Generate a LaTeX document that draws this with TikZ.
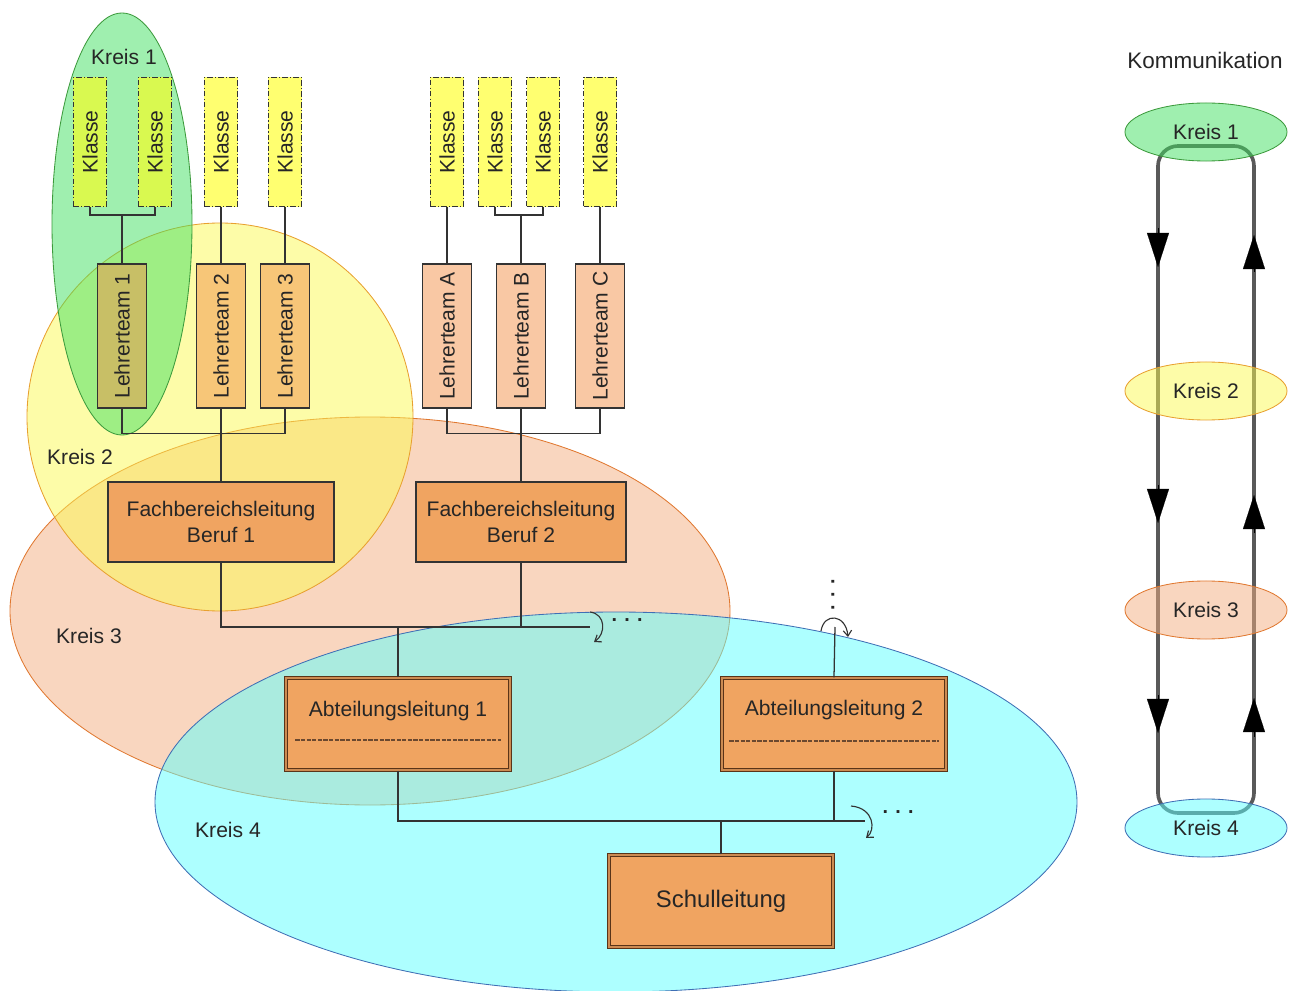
\documentclass[tikz,border=0pt]{standalone}
\usepackage{fontspec}
\setmainfont{Liberation Sans}
\usetikzlibrary{shapes.geometric,arrows.meta}

\definecolor{kreisgruen}{HTML}{40E060}
\definecolor{kreisgelb}{HTML}{FBF951}
\definecolor{kreisorange}{HTML}{F3AE7F}
\definecolor{kreiscyan}{HTML}{5CFFFF}
\definecolor{randgruen}{HTML}{3C9A3C}
\definecolor{randgelb}{HTML}{E8A030}
\definecolor{randorange}{HTML}{E07830}
\definecolor{randcyan}{HTML}{3F6FB5}
\definecolor{klassegelb}{HTML}{FFFF11}
\definecolor{teamorange}{HTML}{F3914A}
\definecolor{leitung}{HTML}{F0A461}
\definecolor{rahmen}{HTML}{5A3418}
\definecolor{linie}{HTML}{333333}

\tikzset{
  kreis/.style={line width=0.6pt, fill opacity=0.5},
  kleinkreis/.style={ellipse, line width=0.6pt, fill opacity=0.5, text opacity=1, minimum width=4.05cm, minimum height=1.45cm, inner sep=0pt},
  klasse/.style={draw=linie, dash pattern=on 4pt off 1.5pt on 0.8pt off 1.5pt, line width=0.8pt, fill=klassegelb, fill opacity=0.6, text opacity=1, minimum width=0.825cm, minimum height=3.225cm, inner sep=0pt},
  team/.style={draw=linie, line width=0.8pt, fill=teamorange, fill opacity=0.5, text opacity=1, minimum width=1.225cm, minimum height=3.6cm, inner sep=0pt},
  fachbox/.style={draw=linie, line width=0.8pt, fill=leitung, align=center, minimum height=2cm, inner sep=0pt},
  leitbox/.style={draw=rahmen, line width=0.9pt, double=leitung!85!black, double distance=1.2pt, fill=leitung, minimum width=5.6cm, minimum height=2.3cm, inner sep=0pt},
  trenn/.style={draw=rahmen!90, dash pattern=on 3pt off 1pt, line width=0.8pt},
  verb/.style={draw=linie, line width=0.9pt},
  haken/.style={draw=linie, line width=0.8pt, -{Straight Barb[length=4pt,width=6pt]}},
  punkte/.style={font=\fontsize{14}{14}\bfseries},
  schleife/.style={draw=black!65, line width=2.6pt, rounded corners=0.5cm},
  pfeil/.style={-{Triangle[length=0.85cm,width=0.55cm]}, line width=0.1pt}
}

\begin{document}
\begin{tikzpicture}[x=0.025cm, y=-0.025cm, font=\fontsize{15}{18}\selectfont, text=black!85]
  \useasboundingbox (0,0) rectangle (1298,991);

  % Kreise
  \draw[kreis, draw=randorange, fill=kreisorange] (370,611) ellipse (360 and 194);
  \draw[kreis, draw=randcyan, fill=kreiscyan] (616,802) ellipse (461 and 190);
  \draw[kreis, draw=randgelb, fill=kreisgelb] (220,417) ellipse (193 and 194);
  \draw[kreis, draw=randgruen, fill=kreisgruen] (122,224) ellipse (70 and 211);
  \node (kreis1) at (124,57) {Kreis 1};
  \node (kreis2) at (80,457) {Kreis 2};
  \node (kreis3) at (89,636) {Kreis 3};
  \node (kreis4) at (228,830) {Kreis 4};

  % Klassen
  \node[klasse] (K1) at (90,142) {\rotatebox{90}{Klasse}};
  \node[klasse] (K2) at (155,142) {\rotatebox{90}{Klasse}};
  \node[klasse] (K3) at (221,142) {\rotatebox{90}{Klasse}};
  \node[klasse] (K4) at (285,142) {\rotatebox{90}{Klasse}};
  \node[klasse] (K5) at (447,142) {\rotatebox{90}{Klasse}};
  \node[klasse] (K6) at (495,142) {\rotatebox{90}{Klasse}};
  \node[klasse] (K7) at (543,142) {\rotatebox{90}{Klasse}};
  \node[klasse] (K8) at (600,142) {\rotatebox{90}{Klasse}};

  % Lehrerteams
  \node[team] (LT1) at (122,336) {\rotatebox{90}{Lehrerteam 1}};
  \node[team] (LT2) at (221,336) {\rotatebox{90}{Lehrerteam 2}};
  \node[team] (LT3) at (285,336) {\rotatebox{90}{Lehrerteam 3}};
  \node[team] (LTA) at (447,336) {\rotatebox{90}{Lehrerteam A}};
  \node[team] (LTB) at (521,336) {\rotatebox{90}{Lehrerteam B}};
  \node[team] (LTC) at (600,336) {\rotatebox{90}{Lehrerteam C}};

  % Leitungen
  \node[fachbox, minimum width=5.65cm] (FB1) at (221,522) {Fachbereichsleitung\\Beruf 1};
  \node[fachbox, minimum width=5.25cm] (FB2) at (521,522) {Fachbereichsleitung\\Beruf 2};
  \node[leitbox, text height=0.4cm, text depth=0.77cm] (AL1) at (398,724) {Abteilungsleitung 1};
  \node[leitbox, text height=0.4cm, text depth=0.8cm] (AL2) at (834,724) {Abteilungsleitung 2};
  \node[leitbox, font=\fontsize{17}{20}\selectfont] (SL) at (721,901) {Schulleitung};
  \draw[trenn] ([shift={(10,16)}]AL1.west) -- ([shift={(-10,16)}]AL1.east);
  \draw[trenn] ([shift={(8,17)}]AL2.west) -- ([shift={(-8,17)}]AL2.east);

  % Verbindungen
  \draw[verb] (K1.south) -- ++(0,8) coordinate (k12) -| (K2.south);
  \draw[verb] (LT1.north) -- (LT1.north |- k12);
  \draw[verb] (K3.south) -- (LT2.north);
  \draw[verb] (K4.south) -- (LT3.north);
  \draw[verb] (K5.south) -- (LTA.north);
  \draw[verb] (K6.south) -- ++(0,8) coordinate (k67) -| (K7.south);
  \draw[verb] (LTB.north) -- (LTB.north |- k67);
  \draw[verb] (K8.south) -- (LTC.north);
  \draw[verb] (LT1.south) -- ++(0,25) -| (LT3.south);
  \draw[verb] (LT2.south) -- (FB1.north);
  \draw[verb] (LTA.south) -- ++(0,25) -| (LTC.south);
  \draw[verb] (LTB.south) -- (FB2.north);

  \coordinate (fbEnde) at (590,627);
  \coordinate (alOben) at (835,627);
  \coordinate (alEnde) at (865,821);
  \draw[verb] (FB1.south) |- (fbEnde);
  \draw[verb] (FB2.south) -- (FB2.south |- fbEnde);
  \draw[verb] (AL1.north) -- (AL1.north |- fbEnde);
  \draw[verb] (AL2.north) -- (alOben);
  \draw[verb] (AL1.south) |- (alEnde);
  \draw[verb] (AL2.south) -- (AL2.south |- alEnde);
  \draw[verb] (SL.north) -- (SL.north |- alEnde);

  % weitere
  \draw[haken] (590,612) .. controls (606,614) and (606,634) .. (594,642);
  \draw[haken] (821,631) .. controls (824,612) and (846,614) .. (848,637);
  \draw[haken] (851,806) .. controls (874,808) and (876,830) .. (866,838);
  \node[punkte] (weiter1) at (627,620) {. . .};
  \node[punkte] (weiter2) at (833,595) {\rotatebox{90}{. . .}};
  \node[punkte] (weiter3) at (898,812) {. . .};

  % Kommunikation
  \node[font=\fontsize{16}{19}\selectfont] (komm) at (1205,60) {Kommunikation};
  \coordinate (sLO) at (1158,146);
  \coordinate (sRU) at (1254,813);
  \draw[schleife] (sLO) rectangle (sRU);
  \node[kleinkreis, draw=randgruen, fill=kreisgruen] (R1) at (1206,132) {Kreis 1};
  \node[kleinkreis, draw=randgelb, fill=kreisgelb] (R2) at (1206,391) {Kreis 2};
  \node[kleinkreis, draw=randorange, fill=kreisorange] (R3) at (1206,610) {Kreis 3};
  \node[kleinkreis, draw=randcyan, fill=kreiscyan] (R4) at (1206,828) {Kreis 4};
  \draw[pfeil] (1158,228) -- (1158,267);
  \draw[pfeil] (1158,485) -- (1158,523);
  \draw[pfeil] (1158,695) -- (1158,733);
  \draw[pfeil] (1254,272) -- (1254,235);
  \draw[pfeil] (1254,533) -- (1254,495);
  \draw[pfeil] (1254,737) -- (1254,698);
\end{tikzpicture}
\end{document}
